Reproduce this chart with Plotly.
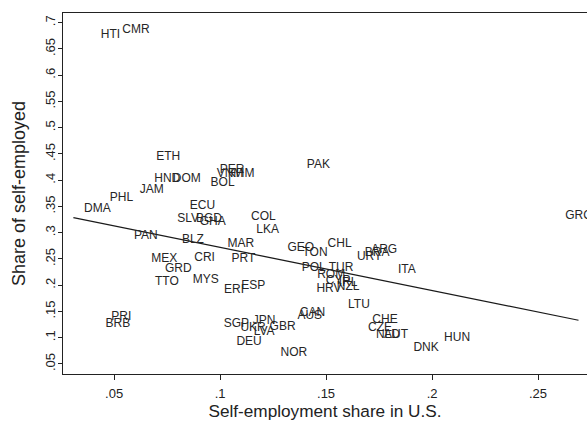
import plotly.graph_objects as go

# Country codes with U.S. self-employment share (x) and own self-employment share (y)
countries = ["HTI", "CMR", "ETH", "HND", "DOM", "PER", "VNM", "KHM", "BOL", "PAK",
             "JAM", "PHL", "DMA", "ECU", "SLV", "BGD", "GHA", "COL", "LKA", "GRC",
             "PAN", "BLZ", "MAR", "GEO", "TON", "CHL", "URY", "BRA", "ARG", "MEX",
             "CRI", "PRT", "GRD", "POL", "TUR", "ROM", "ITA", "CYP", "IRL", "HRV",
             "NZL", "TTO", "MYS", "ERI", "ESP", "LTU", "CAN", "AUS", "PRI", "BRB",
             "SGP", "JPN", "UKR", "GBR", "LVA", "DEU", "CHE", "CZE", "NLD", "AUT",
             "NOR", "DNK", "HUN"]
us_share = [0.0483, 0.0603, 0.0755, 0.0751, 0.0843, 0.1057, 0.1047, 0.1099, 0.1012, 0.1464,
            0.0678, 0.0535, 0.0421, 0.0917, 0.0849, 0.0948, 0.0965, 0.1204, 0.1224, 0.2691,
            0.0650, 0.0872, 0.1098, 0.1381, 0.1448, 0.1564, 0.1705, 0.1741, 0.1774, 0.0737,
            0.0927, 0.1110, 0.0803, 0.1442, 0.1571, 0.1524, 0.1881, 0.1557, 0.1604, 0.1514,
            0.1604, 0.0749, 0.0932, 0.1066, 0.1156, 0.1655, 0.1436, 0.1423, 0.0534, 0.0518,
            0.1077, 0.1208, 0.1156, 0.1295, 0.1208, 0.1137, 0.1778, 0.1755, 0.1792, 0.1830,
            0.1348, 0.1972, 0.2118]
self_employed = [0.677, 0.687, 0.444, 0.402, 0.402, 0.419, 0.412, 0.412, 0.394, 0.429,
                 0.381, 0.367, 0.345, 0.351, 0.326, 0.326, 0.320, 0.329, 0.305, 0.332,
                 0.294, 0.287, 0.279, 0.270, 0.261, 0.278, 0.253, 0.262, 0.267, 0.250,
                 0.251, 0.249, 0.231, 0.232, 0.232, 0.219, 0.229, 0.208, 0.204, 0.193,
                 0.197, 0.207, 0.210, 0.191, 0.199, 0.162, 0.148, 0.141, 0.139, 0.126,
                 0.127, 0.131, 0.118, 0.121, 0.111, 0.091, 0.134, 0.118, 0.105, 0.105,
                 0.071, 0.080, 0.099]

# Linear fit
fit_intercept = 0.354
fit_slope = -0.82
fit_x_span = [0.0308, 0.2691]

x_ticks = [0.05, 0.10, 0.15, 0.20, 0.25]
x_tick_labels = [".05", ".1", ".15", ".2", ".25"]
y_ticks = [0.05, 0.10, 0.15, 0.20, 0.25, 0.30, 0.35, 0.40, 0.45, 0.50, 0.55, 0.60, 0.65, 0.70]
y_tick_labels = [".05", ".1", ".15", ".2", ".25", ".3", ".35", ".4", ".45", ".5",
                 ".55", ".6", ".65", ".7"]

FONT = "Liberation Sans, Arial, sans-serif"

fig = go.Figure()

fig.add_trace(go.Scatter(
    x=fit_x_span,
    y=[fit_intercept + fit_slope * v for v in fit_x_span],
    mode="lines",
    line=dict(color="#1a1a1a", width=1.2),
    hoverinfo="skip",
    showlegend=False,
))

fig.add_trace(go.Scatter(
    x=us_share,
    y=self_employed,
    mode="text",
    text=countries,
    textposition="middle center",
    textfont=dict(family=FONT, size=12, color="#262626"),
    hoverinfo="skip",
    showlegend=False,
))

fig.update_layout(
    width=587,
    height=426,
    margin=dict(l=63, r=0, t=13, b=52),
    paper_bgcolor="white",
    plot_bgcolor="white",
    font=dict(family=FONT, color="#222"),
    xaxis=dict(
        range=[0.0259, 0.2731],
        tickvals=x_ticks,
        ticktext=x_tick_labels,
        ticks="outside",
        ticklen=5,
        tickwidth=1,
        tickcolor="#222",
        tickfont=dict(size=13, family=FONT, color="#222"),
        ticklabelstandoff=2,
        showline=True,
        linecolor="#222",
        linewidth=1.2,
        mirror=True,
        showgrid=False,
        zeroline=False,
        title=dict(text="Self-employment share in U.S.",
                   font=dict(size=17.2, family=FONT, color="#222"),
                   standoff=5),
    ),
    yaxis=dict(
        range=[0.0309, 0.7185],
        tickvals=y_ticks,
        ticktext=y_tick_labels,
        tickangle=-90,
        ticks="outside",
        ticklen=4,
        tickwidth=1,
        tickcolor="#222",
        tickfont=dict(size=13, family=FONT, color="#222"),
        ticklabelstandoff=-2,
        showline=True,
        linecolor="#222",
        linewidth=1.2,
        showgrid=False,
        zeroline=False,
        title=dict(text="Share of self-employed",
                   font=dict(size=18, family=FONT, color="#222"),
                   standoff=12),
    ),
)

fig.write_html("out.html")
